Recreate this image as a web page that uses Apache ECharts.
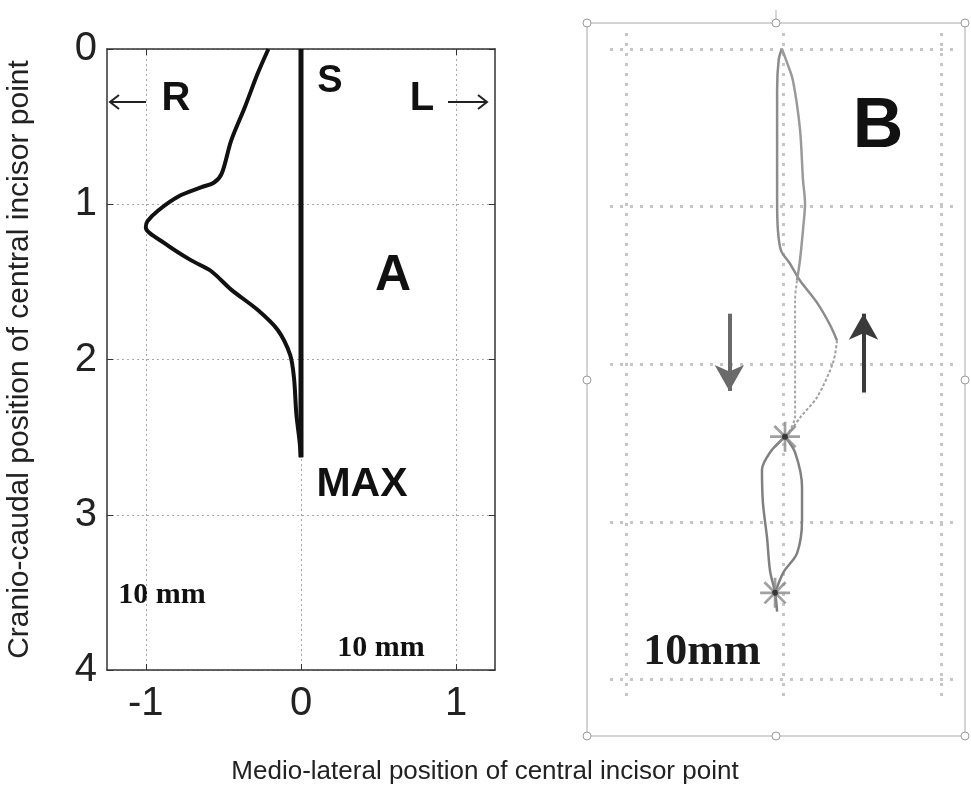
<!DOCTYPE html>
<html lang="en">
<head>
    <meta charset="UTF-8">
    <title>Central incisor trajectory</title>
    <script src="https://cdn.jsdelivr.net/npm/echarts@6/dist/echarts.min.js"></script>
    <style>html,body{margin:0;padding:0;background:#fff}</style>
</head>
<body>
<div id="main" style="width:971px;height:812px"></div>
<script>
    // tick values
    var xTicks = [-1, 0, 1];
    var yTicks = [0, 1, 2, 3, 4];

    // panel A: [medio-lateral, cranio-caudal]
    var pathA = [[-0.21,0],[-0.28,0.16],[-0.36,0.37],[-0.45,0.59],[-0.51,0.80],[-0.56,0.86],[-0.64,0.89],
        [-0.79,0.95],[-0.92,1.04],[-0.99,1.11],[-1.0,1.15],[-0.88,1.25],[-0.71,1.36],[-0.58,1.43],
        [-0.45,1.55],[-0.28,1.68],[-0.15,1.81],[-0.07,1.97],[-0.045,2.12],[-0.03,2.35],[-0.01,2.52],[0,2.63]];
    var straightA = [[0,0],[0,2.63]];

    // panel B traces
    var pathB1 = [[-0.01,0],[-0.03,0.07],[-0.04,0.26],[-0.04,0.64],[-0.04,0.96],[-0.035,1.15],[-0.015,1.28],
        [0.04,1.36],[0.105,1.47],[0.213,1.61],[0.295,1.75],[0.34,1.85]];
    var pathB1Dash = [[0.34,1.85],[0.315,1.99],[0.213,2.21],[0.105,2.34],[0.023,2.46]];
    var pathB2 = [[-0.01,0],[0.02,0.08],[0.06,0.20],[0.105,0.51],[0.124,0.83],[0.137,0.98],[0.124,1.15],
        [0.105,1.34],[0.086,1.47]];
    var pathB2Dash = [[0.086,1.47],[0.074,1.59],[0.074,2.33],[0.042,2.42],[0.01,2.46]];
    var pathB3 = [[0.01,2.46],[-0.085,2.56],[-0.136,2.67],[-0.13,2.88],[-0.104,3.10],[-0.085,3.31],[-0.053,3.45],[-0.04,3.57]];
    var pathB4 = [[0.01,2.46],[0.074,2.56],[0.118,2.78],[0.118,2.99],[0.086,3.20],[0,3.32],[-0.053,3.45]];
    var starsB = [[0.01,2.46],[-0.053,3.45]];

    var chartDom = document.getElementById('main');
    var myChart = echarts.init(chartDom, null, { renderer: 'canvas' });

    var sans = 'Liberation Sans, Arial, sans-serif';
    var serif = 'Liberation Serif, Times New Roman, serif';
    var dotA = { color: '#a8a8a8', width: 1, type: [2, 3] };
    var dotB = { color: '#c6c6c6', width: 3, type: [3, 7] };
    var asterisk = 'path://M-0.9,-10L0.9,-10L0.9,10L-0.9,10Z M-10,-0.9L10,-0.9L10,0.9L-10,0.9Z ' +
        'M-7.7,-6.4L-6.4,-7.7L7.7,6.4L6.4,7.7Z M7.7,-6.4L6.4,-7.7L-7.7,6.4L-6.4,7.7Z';

    function arrowLine(x1, y1, x2, y2, dir) {
        var h = dir < 0 ? 9 : -9;
        return {
            type: 'group',
            children: [
                { type: 'line', shape: { x1: x1, y1: y1, x2: x2, y2: y2 }, style: { stroke: '#222', lineWidth: 2 } },
                { type: 'polyline', shape: { points: [[x2 + h, y2 - 7], [x2, y2], [x2 + h, y2 + 7]] },
                  style: { stroke: '#222', lineWidth: 2, fill: null } }
            ]
        };
    }

    function handle(x, y) {
        return { type: 'circle', shape: { cx: x, cy: y, r: 4 }, style: { fill: '#fff', stroke: '#9a9a9a', lineWidth: 1 }, z: 10 };
    }

    var option = {
        animation: false,
        grid: [
            { left: 107, top: 49, width: 388, height: 621 },
            { left: 610, top: 33, width: 350, height: 667 }
        ],
        xAxis: [
            {
                gridIndex: 0, type: 'value', min: -1.25, max: 1.25,
                axisLine: { show: true, onZero: false, lineStyle: { color: '#333', width: 1.5 } },
                axisTick: { show: true, inside: true, length: 6, customValues: xTicks, lineStyle: { color: '#333' } },
                axisLabel: { customValues: xTicks, fontSize: 40, color: '#222', fontFamily: sans, margin: 14 },
                splitLine: { show: true, lineStyle: dotA }
            },
            {
                gridIndex: 0, type: 'value', position: 'top', min: -1.25, max: 1.25,
                axisLine: { show: true, onZero: false, lineStyle: { color: '#333', width: 1.5 } },
                axisTick: { show: true, inside: true, length: 6, customValues: xTicks, lineStyle: { color: '#333' } },
                axisLabel: { show: false },
                splitLine: { show: false }
            },
            {
                gridIndex: 1, type: 'value', min: -1.1, max: 1.12,
                axisLine: { show: false },
                axisTick: { show: false, customValues: xTicks },
                axisLabel: { show: false },
                splitLine: { show: true, lineStyle: dotB }
            }
        ],
        yAxis: [
            {
                gridIndex: 0, type: 'value', inverse: true, min: 0, max: 4, interval: 1,
                name: 'Cranio-caudal position of central incisor point',
                nameLocation: 'middle', nameRotate: 90, nameGap: 72,
                nameTextStyle: { fontSize: 30, color: '#222', fontFamily: sans },
                axisLine: { show: true, onZero: false, lineStyle: { color: '#333', width: 1.5 } },
                axisTick: { show: true, inside: true, length: 6, lineStyle: { color: '#333' } },
                axisLabel: { fontSize: 40, color: '#222', fontFamily: sans, margin: 10 },
                splitLine: { show: true, lineStyle: dotA }
            },
            {
                gridIndex: 0, type: 'value', inverse: true, position: 'right', min: 0, max: 4, interval: 1,
                axisLine: { show: true, onZero: false, lineStyle: { color: '#333', width: 1.5 } },
                axisTick: { show: true, inside: true, length: 6, lineStyle: { color: '#333' } },
                axisLabel: { show: false },
                splitLine: { show: false }
            },
            {
                gridIndex: 1, type: 'value', inverse: true, min: -0.1, max: 4.13,
                axisLine: { show: false },
                axisTick: { show: false, customValues: yTicks },
                axisLabel: { show: false },
                splitLine: { show: true, lineStyle: dotB }
            }
        ],
        series: [
            {
                name: 'A trajectory', type: 'line', xAxisIndex: 0, yAxisIndex: 0,
                data: pathA, showSymbol: false, smooth: 0.3,
                lineStyle: { color: '#111', width: 4 }
            },
            {
                name: 'A straight', type: 'line', xAxisIndex: 0, yAxisIndex: 0,
                data: straightA, showSymbol: false,
                lineStyle: { color: '#111', width: 5 }
            },
            {
                name: 'B1', type: 'line', xAxisIndex: 2, yAxisIndex: 2,
                data: pathB1, showSymbol: false, smooth: 0.3,
                lineStyle: { color: '#8c8c8c', width: 2.5 },
                markLine: {
                    silent: true, symbol: ['none', 'arrow'], symbolSize: [22, 26],
                    label: { show: false },
                    data: [
                        [{ coord: [-0.343, 1.68], lineStyle: { color: '#6a6a6a', width: 4, type: 'solid' } }, { coord: [-0.343, 2.17] }],
                        [{ coord: [0.508, 2.18], lineStyle: { color: '#3a3a3a', width: 4, type: 'solid' } }, { coord: [0.508, 1.68] }]
                    ]
                }
            },
            {
                name: 'B1 dash', type: 'line', xAxisIndex: 2, yAxisIndex: 2,
                data: pathB1Dash, showSymbol: false, smooth: 0.3,
                lineStyle: { color: '#a0a0a0', width: 2, type: [3, 2] }
            },
            {
                name: 'B2', type: 'line', xAxisIndex: 2, yAxisIndex: 2,
                data: pathB2, showSymbol: false, smooth: 0.3,
                lineStyle: { color: '#9a9a9a', width: 2.5 }
            },
            {
                name: 'B2 dash', type: 'line', xAxisIndex: 2, yAxisIndex: 2,
                data: pathB2Dash, showSymbol: false, smooth: 0.3,
                lineStyle: { color: '#a8a8a8', width: 2, type: [3, 2] }
            },
            {
                name: 'B3', type: 'line', xAxisIndex: 2, yAxisIndex: 2,
                data: pathB3, showSymbol: false, smooth: 0.3,
                lineStyle: { color: '#808080', width: 2.5 }
            },
            {
                name: 'B4', type: 'line', xAxisIndex: 2, yAxisIndex: 2,
                data: pathB4, showSymbol: false, smooth: 0.3,
                lineStyle: { color: '#808080', width: 2.5 }
            },
            {
                name: 'stars', type: 'scatter', xAxisIndex: 2, yAxisIndex: 2,
                data: starsB, symbol: asterisk, symbolSize: 30,
                itemStyle: { color: '#8a8a8a' }, z: 5
            },
            {
                name: 'star centre', type: 'scatter', xAxisIndex: 2, yAxisIndex: 2,
                data: starsB, symbol: 'circle', symbolSize: 6,
                itemStyle: { color: '#222' }, z: 6
            }
        ],
        graphic: [
            // panel A annotations
            { type: 'text', style: { text: 'S', x: 330, y: 82, font: 'bold 38px ' + sans, fill: '#111', align: 'center', verticalAlign: 'middle' } },
            { type: 'text', style: { text: 'R', x: 176, y: 99, font: 'bold 40px ' + sans, fill: '#111', align: 'center', verticalAlign: 'middle' } },
            { type: 'text', style: { text: 'L', x: 422, y: 99, font: 'bold 40px ' + sans, fill: '#111', align: 'center', verticalAlign: 'middle' } },
            arrowLine(146, 102, 110, 102, -1),
            arrowLine(448, 102, 487, 102, 1),
            { type: 'text', style: { text: 'A', x: 393, y: 276, font: 'bold 50px ' + sans, fill: '#111', align: 'center', verticalAlign: 'middle' } },
            { type: 'text', style: { text: 'MAX', x: 362, y: 485, font: 'bold 41px ' + sans, fill: '#111', align: 'center', verticalAlign: 'middle' } },
            { type: 'text', style: { text: '10 mm', x: 162, y: 595, font: 'bold 30px ' + serif, fill: '#111', align: 'center', verticalAlign: 'middle' } },
            { type: 'text', style: { text: '10 mm', x: 381, y: 648, font: 'bold 30px ' + serif, fill: '#111', align: 'center', verticalAlign: 'middle' } },
            // panel B frame with selection handles
            { type: 'rect', shape: { x: 587, y: 23, width: 378, height: 713 }, style: { fill: null, stroke: '#a8a8a8', lineWidth: 1 }, z: 9 },
            handle(587, 23), handle(776, 23), handle(965, 23),
            handle(587, 380), handle(965, 380),
            handle(587, 736), handle(776, 736), handle(965, 736),
            { type: 'line', shape: { x1: 776, y1: 10, x2: 776, y2: 19 }, style: { stroke: '#b0b0b0', lineWidth: 1 } },
            // panel B annotations
            { type: 'text', style: { text: 'B', x: 878, y: 128, font: 'bold 70px ' + sans, fill: '#111', align: 'center', verticalAlign: 'middle' } },
            { type: 'text', style: { text: '10mm', x: 702, y: 653, font: 'bold 44px ' + serif, fill: '#1a1a1a', align: 'center', verticalAlign: 'middle' } },
            // shared x title
            { type: 'text', style: { text: 'Medio-lateral position of central incisor point', x: 485, y: 772,
                font: '26px ' + sans, fill: '#222', align: 'center', verticalAlign: 'middle' } }
        ]
    };
    option && myChart.setOption(option);
</script>
</body>
</html>
